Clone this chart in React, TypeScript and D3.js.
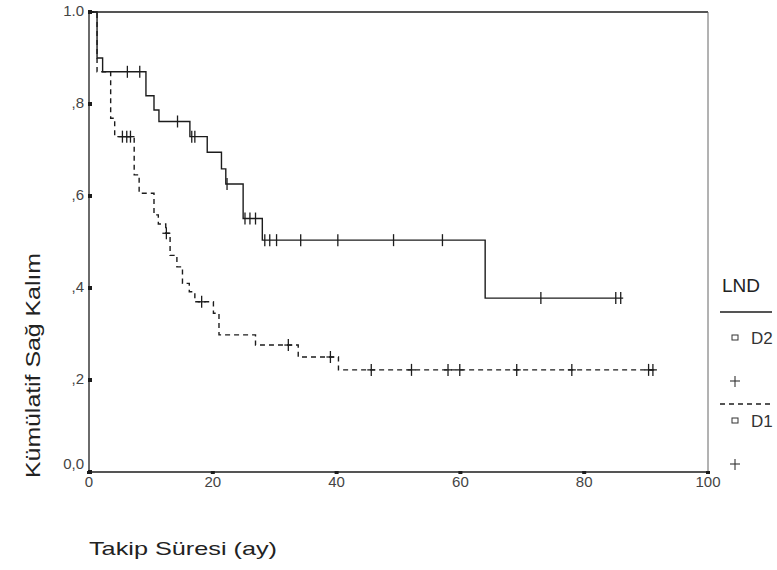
import React from 'react'
import * as d3 from 'd3'

// D2 group (solid): step times and survival after each drop
const d2Times = [0, 1.3, 2.2, 9.2, 10.5, 11.3, 16.3, 19.1, 21.4, 22.1, 24.9, 28.0, 64.0]
const d2Surv = [1.0, 0.9, 0.87, 0.818, 0.787, 0.762, 0.729, 0.695, 0.659, 0.626, 0.551, 0.504, 0.378]
const d2End = 86.3
const d2Censored = [6.2, 8.2, 14.3, 16.6, 17.1, 22.3, 25.2, 26.0, 26.9, 28.4, 29.2, 30.3, 34.2, 40.2, 49.2, 57.1, 73.0, 85.1, 85.9]

// D1 group (dashed)
const d1Times = [0, 1.3, 3.5, 4.15, 7.3, 8.1, 10.5, 11.2, 12.4, 13.1, 14.2, 15.1, 16.2, 17.1, 20.1, 21.0, 26.9, 33.8, 40.3]
const d1Surv = [1.0, 0.87, 0.769, 0.729, 0.646, 0.606, 0.559, 0.539, 0.519, 0.471, 0.446, 0.41, 0.392, 0.37, 0.345, 0.298, 0.276, 0.25, 0.222]
const d1End = 91.4
const d1Censored = [5.4, 6.1, 6.7, 12.5, 18.2, 32.2, 39.0, 45.6, 52.1, 58.0, 59.9, 69.1, 78.0, 90.4, 91.1]

const xTicks = [0, 20, 40, 60, 80, 100]
const yTicks = [0, 0.2, 0.4, 0.6, 0.8, 1.0]
const yTickLabels = ['0,0', ',2', ',4', ',6', ',8', '1.0']

const W = 777
const H = 570
const ink = '#1c1c1c'
const font = '"Liberation Sans", Arial, sans-serif'

const x = d3.scaleLinear().domain([0, 100]).range([89, 708])
const y = d3.scaleLinear().domain([0, 1]).range([472, 12])

function stepPoints(times: number[], surv: number[], end: number): [number, number][] {
  const pts: [number, number][] = times.map((t, i) => [t, surv[i]])
  pts.push([end, surv[surv.length - 1]])
  return pts
}

function survAt(times: number[], surv: number[], t: number) {
  const i = d3.bisectRight(times, t) - 1
  return surv[Math.max(0, i)]
}

const line = d3.line<[number, number]>()
  .x(d => x(d[0]))
  .y(d => y(d[1]))
  .curve(d3.curveStepAfter)

export default function App() {
  const d2Path = line(stepPoints(d2Times, d2Surv, d2End)) || ''
  const d1Path = line(stepPoints(d1Times, d1Surv, d1End)) || ''

  return (
    <svg width={W} height={H} style={{ position: 'absolute', left: 0, top: 0, background: '#fff' }}
      fontFamily={font}>
      <rect width={W} height={H} fill="#fff" />

      {/* frame */}
      <line x1={x(0)} x2={x(100)} y1={y(1)} y2={y(1)} stroke={ink} strokeWidth={1.3} />
      <line x1={x(100)} x2={x(100)} y1={y(1)} y2={y(0)} stroke="#666" strokeWidth={1} />
      <line x1={x(0)} x2={x(0)} y1={y(1)} y2={y(0)} stroke={ink} strokeWidth={1.3} />
      <line x1={x(0)} x2={x(100)} y1={y(0)} y2={y(0)} stroke={ink} strokeWidth={1.5} />

      {/* y ticks */}
      {yTicks.map((v, i) => (
        <g key={'y' + i}>
          <rect x={x(0) - 1} y={y(v) - 2} width={4} height={4} fill={ink} />
          <text x={84} y={y(v) + (i === 0 ? -3 : 4)} textAnchor="end" fontSize={15} fill="#444">{yTickLabels[i]}</text>
        </g>
      ))}

      {/* x ticks */}
      {xTicks.map((v, i) => (
        <g key={'x' + i}>
          <rect x={x(v) - 2} y={y(0) - 1} width={4} height={3} fill={ink} />
          <text x={x(v)} y={487} textAnchor="middle" fontSize={15} fill="#444">{v}</text>
        </g>
      ))}

      {/* curves */}
      <path d={d2Path} fill="none" stroke={ink} strokeWidth={1.4} />
      <path d={d1Path} fill="none" stroke={ink} strokeWidth={1.4} strokeDasharray="5,4" />

      {d2Censored.map((t, i) => {
        const s = survAt(d2Times, d2Surv, t)
        return (
          <g key={'c2' + i} stroke={ink} strokeWidth={1.3}>
            <line x1={x(t)} x2={x(t)} y1={y(s) - 6} y2={y(s) + 6} />
          </g>
        )
      })}
      {d1Censored.map((t, i) => {
        const s = survAt(d1Times, d1Surv, t)
        return (
          <g key={'c1' + i} stroke={ink} strokeWidth={1.3}>
            <line x1={x(t)} x2={x(t)} y1={y(s) - 6} y2={y(s) + 6} />
            <line x1={x(t) - 4} x2={x(t) + 4} y1={y(s)} y2={y(s)} />
          </g>
        )
      })}

      {/* axis titles */}
      <text x={89} y={555} fontSize={19} fill="#222" textLength={188} lengthAdjust="spacingAndGlyphs">Takip Süresi (ay)</text>
      <text transform="translate(40,478) rotate(-90)" fontSize={20} fill="#222" textLength={225}
        lengthAdjust="spacingAndGlyphs">Kümülatif Sağ Kalım</text>

      {/* legend */}
      <text x={722} y={292} fontSize={19} fill="#222">LND</text>
      <line x1={720} x2={772} y1={312} y2={312} stroke={ink} strokeWidth={1.3} />
      <rect x={732} y={335} width={6} height={5} fill="none" stroke="#333" strokeWidth={1} />
      <text x={751} y={344} fontSize={17} fill="#333">D2</text>
      <line x1={735} x2={735} y1={376} y2={387} stroke="#333" strokeWidth={1.1} />
      <line x1={730} x2={740} y1={381} y2={381} stroke="#333" strokeWidth={1.1} />
      <line x1={720} x2={770} y1={404} y2={404} stroke={ink} strokeWidth={1.3} strokeDasharray="5,4" />
      <rect x={732} y={418} width={6} height={5} fill="none" stroke="#333" strokeWidth={1} />
      <text x={751} y={427} fontSize={17} fill="#333">D1</text>
      <line x1={735} x2={735} y1={459} y2={470} stroke="#333" strokeWidth={1.1} />
      <line x1={730} x2={740} y1={464} y2={464} stroke="#333" strokeWidth={1.1} />
    </svg>
  )
}
